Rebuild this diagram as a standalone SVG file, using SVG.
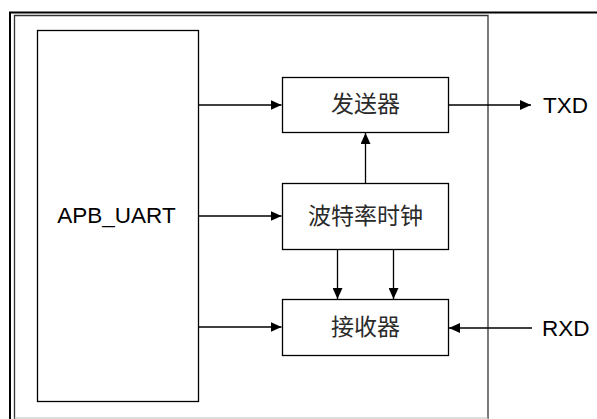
<svg xmlns="http://www.w3.org/2000/svg" width="597" height="419" viewBox="0 0 597 419">
<style>
.box{fill:#fff;stroke:#000;stroke-width:1.3}
.ln{stroke:#000;stroke-width:1.3;fill:none}
.lat{font-family:"Liberation Sans",Arial,sans-serif;font-size:22.5px;fill:#000}
.cjk{font-family:"Liberation Sans","Noto Sans CJK SC",sans-serif;font-size:23px;fill:#2a2a2a}
</style>
<defs>
<marker id="ah" viewBox="0 0 11 10" refX="11" refY="5" markerWidth="11" markerHeight="10" markerUnits="userSpaceOnUse" orient="auto">
<path d="M0,0 L11,5 L0,10 z" fill="#000"/>
</marker>
</defs>
<g id="frame">
<path d="M597,12.5 H10 V419" fill="none" stroke="#000" stroke-width="2"/>
<path d="M14.5,419 V15.5 H488 V419" fill="none" stroke="#333" stroke-width="1.3"/>
<path d="M14.5,418 H488" fill="none" stroke="#bbb" stroke-width="1"/>
</g>
<g id="apb_uart">
<rect class="box" x="37.5" y="30.5" width="161" height="371"/>
<text class="lat" x="116.5" y="223" text-anchor="middle">APB_UART</text>
</g>
<g id="sender">
<rect class="box" x="282.5" y="77.5" width="166" height="55"/>
<text class="cjk" x="365.5" y="112" text-anchor="middle">发送器</text>
</g>
<g id="baud">
<rect class="box" x="282.5" y="183.5" width="166" height="66"/>
<text class="cjk" x="365.5" y="224" text-anchor="middle">波特率时钟</text>
</g>
<g id="receiver">
<rect class="box" x="282.5" y="299.5" width="166" height="56"/>
<text class="cjk" x="365.5" y="335" text-anchor="middle">接收器</text>
</g>
<g id="txd">
<text class="lat" x="543" y="113">TXD</text>
</g>
<g id="rxd">
<text class="lat" x="542" y="336">RXD</text>
</g>
<g id="connectors">
<path class="ln" d="M198.5,105 H281.5" marker-end="url(#ah)"/>
<path class="ln" d="M198.5,216 H281.5" marker-end="url(#ah)"/>
<path class="ln" d="M198.5,327 H281.5" marker-end="url(#ah)"/>
<path class="ln" d="M365.5,183.5 V133" marker-end="url(#ah)"/>
<path class="ln" d="M337.5,249.5 V299" marker-end="url(#ah)"/>
<path class="ln" d="M393.5,249.5 V299" marker-end="url(#ah)"/>
<path class="ln" d="M448.5,105 H531" marker-end="url(#ah)"/>
<path class="ln" d="M532,328 H449" marker-end="url(#ah)"/>
</g>
</svg>
